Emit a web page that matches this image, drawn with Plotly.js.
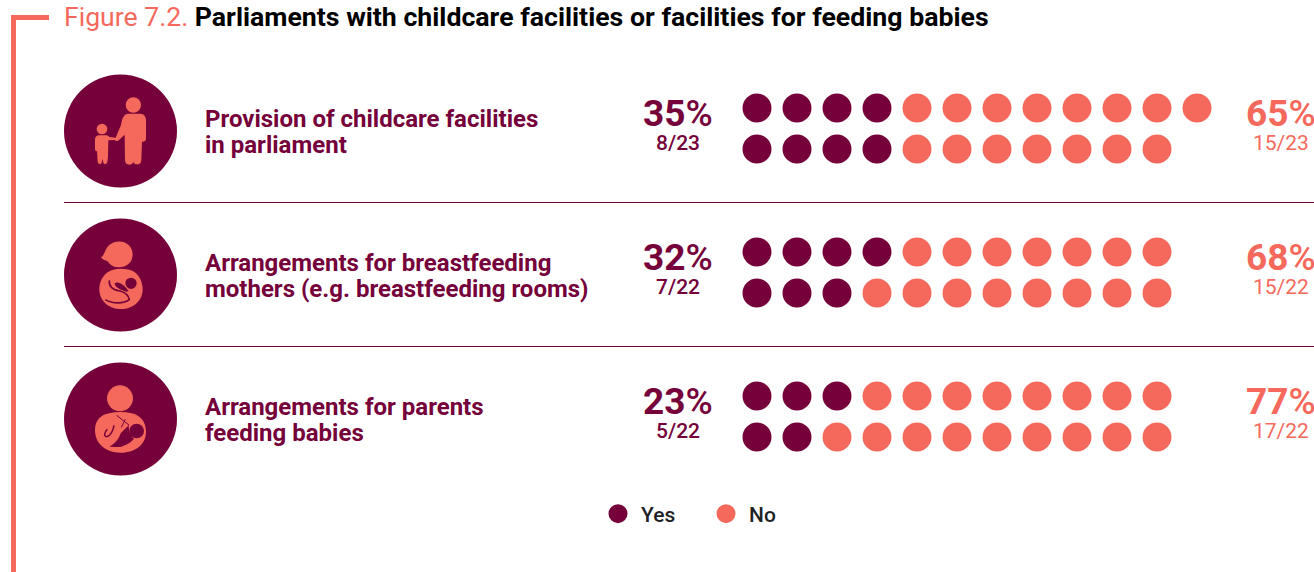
<!DOCTYPE html>
<html>
<head>
<meta charset="utf-8">
<script src="https://cdn.plot.ly/plotly-3.0.1.min.js"></script>
<style>html,body{margin:0;padding:0;background:#fff;overflow:hidden}#chart{width:1314px;height:572px}</style>
</head>
<body>
<div id="chart"></div>
<script>
// Survey results per facility type
const measures = [
  ["Provision of childcare facilities", "in parliament"],
  ["Arrangements for breastfeeding", "mothers (e.g. breastfeeding rooms)"],
  ["Arrangements for parents", "feeding babies"]
];
const yesPercent = [35, 32, 23];
const noPercent = [65, 68, 77];
const yesCount = [8, 7, 5];
const noCount = [15, 15, 17];
const totals = [23, 22, 22];

const DARK = "#75003A";
const CORAL = "#F5695C";
const INK = "#1E2226";
const FONT = "Roboto, 'Liberation Sans', sans-serif";

// Layout metrics, in page pixels
const rowTop = [108, 252, 396];
const rowGap = 41;
const dotStart = 757;
const dotStep = 40;
const iconCentre = [131, 275, 419];

// Split each parliament tally over two rows, filling the top row first on odd counts
const yesX = [], yesY = [], noX = [], noY = [];
measures.forEach((_, r) => {
  const topTotal = Math.ceil(totals[r] / 2);
  const topYes = Math.ceil(yesCount[r] / 2);
  const bottomTotal = totals[r] - topTotal;
  const bottomYes = yesCount[r] - topYes;
  [[topTotal, topYes, rowTop[r]], [bottomTotal, bottomYes, rowTop[r] + rowGap]].forEach(([n, y, py]) => {
    for (let i = 0; i < n; i++) {
      const px = dotStart + i * dotStep;
      if (i < y) { yesX.push(px); yesY.push(py); } else { noX.push(px); noY.push(py); }
    }
  });
});

function dotTrace(name, x, y, color) {
  return {
    type: "scatter", mode: "markers", name, x, y, hoverinfo: "skip", cliponaxis: false,
    marker: { color, size: 26, line: { color, width: 3 } }
  };
}

// Icon outlines are authored on a 3x grid and placed relative to an origin
function place(path, ox, oy) {
  return path.replace(/(-?\d+(?:\.\d+)?),(-?\d+(?:\.\d+)?)/g, (m, a, b) => `${(+a / 3 + ox).toFixed(2)},${(+b / 3 + oy).toFixed(2)}`);
}
function fillPath(path, ox, oy, color) {
  return { type: "path", xref: "x", yref: "y", path: place(path, ox, oy), fillcolor: color, line: { width: 0 } };
}
function strokePath(path, ox, oy, color, width) {
  return { type: "path", xref: "x", yref: "y", path: place(path, ox, oy), line: { color, width } };
}
function disc(cx, cy, r, color) {
  return { type: "circle", xref: "x", yref: "y", x0: cx - r, x1: cx + r, y0: cy - r, y1: cy + r, fillcolor: color, line: { width: 0 } };
}
function zoomDisc(cx, cy, r, ox, oy, color) {
  return disc(cx / 3 + ox, cy / 3 + oy, r / 3, color);
}

const shapes = [
  // Corner frame
  { type: "rect", xref: "x", yref: "y", x0: 11, x1: 49, y0: 15, y1: 20, fillcolor: CORAL, line: { width: 0 } },
  { type: "rect", xref: "x", yref: "y", x0: 11, x1: 16, y0: 15, y1: 572, fillcolor: CORAL, line: { width: 0 } },
  // Row separators
  { type: "line", xref: "x", yref: "y", x0: 64, x1: 1314, y0: 202.5, y1: 202.5, line: { color: DARK, width: 1 } },
  { type: "line", xref: "x", yref: "y", x0: 64, x1: 1314, y0: 346.5, y1: 346.5, line: { color: DARK, width: 1 } }
];
iconCentre.forEach(cy => shapes.push(disc(120.5, cy, 56.5, DARK)));

// Adult holding a child's hand
shapes.push(zoomDisc(250, 135, 23, 50, 60, CORAL));
shapes.push(zoomDisc(156, 207, 16, 50, 60, CORAL));
shapes.push(fillPath("M236,161 L270,161 C282,161 288,170 288,182 L288,236 C288,243 282,246 276,245 L274,300 C274,310 268,314 260,313 C255,313 252,310 250,306 C248,311 244,314 238,314 C230,314 225,309 225,300 L224,224 L207,240 C203,244 197,243 194,240 L175,241 L174,290 L172,306 C171,313 162,314 160,308 L157,296 L155,308 C153,314 144,313 143,306 L141,274 C136,274 135,270 135,265 L135,238 C135,231 140,226 147,226 L168,226 C172,226 175,228 178,231 L197,233 L213,195 C216,175 222,161 236,161 Z", 50, 60, CORAL));

// Breastfeeding mother
shapes.push(fillPath("M153,157 C165,150 164,132 178,120 C205,98 248,112 248,148 C248,175 226,188 205,187 C191,187 180,180 172,168 C165,167 157,164 153,157 Z", 50, 205, CORAL));
shapes.push(fillPath("M190,194 C205,190 222,191 238,194 C262,200 278,225 278,252 C278,288 250,312 213,312 C176,312 148,288 148,252 C148,225 165,200 190,194 Z", 50, 205, CORAL));
shapes.push(zoomDisc(243, 235, 17, 50, 205, DARK));
shapes.push(fillPath("M194,236 C200,228 212,234 224,244 L236,258 C230,262 224,260 218,256 C208,252 196,246 194,236 Z", 50, 205, DARK));
shapes.push(strokePath("M178,226 C176,245 190,255 210,258 C225,262 235,268 238,284 C222,296 190,298 166,284", 50, 205, DARK, 1.6));

// Parent feeding a baby with a bottle
shapes.push(zoomDisc(210, 145, 39, 50, 350, CORAL));
shapes.push(fillPath("M178,190 C200,185 222,185 245,190 C270,195 288,215 288,245 C288,282 258,308 212,308 C166,308 135,280 135,240 C135,212 152,194 178,190 Z", 50, 350, CORAL));
shapes.push(zoomDisc(260, 243, 22, 50, 350, DARK));
shapes.push(fillPath("M212,250 L236,226 C236,240 240,258 252,266 C245,276 232,284 214,290 C206,292 196,290 178,290 C194,282 206,268 212,250 Z", 50, 350, DARK));
shapes.push(strokePath("M192,226 C190,240 182,258 170,260 C160,260 164,246 172,238", 50, 350, DARK, 1.5));
shapes.push(strokePath("M200,196 L238,226 M226,208 L214,232", 50, 350, DARK, 1));

// Row captions and the share / count pairs on both sides of the dots
const annotations = [];
function note(text, x, y, size, color, anchor, weight) {
  annotations.push({
    xref: "x", yref: "y", x, y, text, showarrow: false, xanchor: anchor, yanchor: "middle", align: anchor,
    font: { family: FONT, size, color, weight }, borderpad: 0, borderwidth: 0
  });
}
const share = v => `${v}<span style="font-weight:500">%</span>`;
measures.forEach((lines, r) => {
  lines.forEach((line, i) => note(line, 205, rowTop[r] + 10.5 + i * 26, 24, DARK, "left", 700));
  note(share(yesPercent[r]), 678, rowTop[r] + 5, 37, DARK, "center", 700);
  note(yesCount[r] + "/" + totals[r], 678, rowTop[r] + 35, 21, DARK, "center", 500);
  note(share(noPercent[r]), 1246, rowTop[r] + 5, 37, CORAL, "left", 700);
  note(noCount[r] + "/" + totals[r], 1281, rowTop[r] + 35, 21, CORAL, "center", 400);
});

const layout = {
  width: 1314, height: 572,
  margin: { l: 0, r: 0, t: 0, b: 0, pad: 0 },
  paper_bgcolor: "#fff", plot_bgcolor: "#fff",
  title: {
    text: `<span style="color:${CORAL};font-weight:400;font-size:26.6px">Figure 7.2.</span> <b>Parliaments with childcare facilities or facilities for feeding babies</b>`,
    x: 64 / 1314, xanchor: "left", xref: "paper",
    y: 1 - 17 / 572, yanchor: "middle", yref: "paper",
    font: { family: FONT, size: 26.7, color: "#000" }
  },
  xaxis: { range: [0, 1314], visible: false, fixedrange: true },
  yaxis: { range: [572, 0], visible: false, fixedrange: true },
  showlegend: true,
  legend: {
    orientation: "h", x: 595 / 1314, y: 1 - 514 / 572, xanchor: "left", yanchor: "middle",
    font: { family: FONT, size: 21, color: INK, weight: 500 },
    itemsizing: "trace", itemwidth: 36, entrywidth: 57, entrywidthmode: "pixels",
    itemclick: false, itemdoubleclick: false, traceorder: "normal", bgcolor: "rgba(0,0,0,0)"
  },
  shapes, annotations
};

Plotly.newPlot("chart", [dotTrace("Yes", yesX, yesY, DARK), dotTrace("No", noX, noY, CORAL)], layout, { displayModeBar: false, staticPlot: true });
</script>
</body>
</html>
